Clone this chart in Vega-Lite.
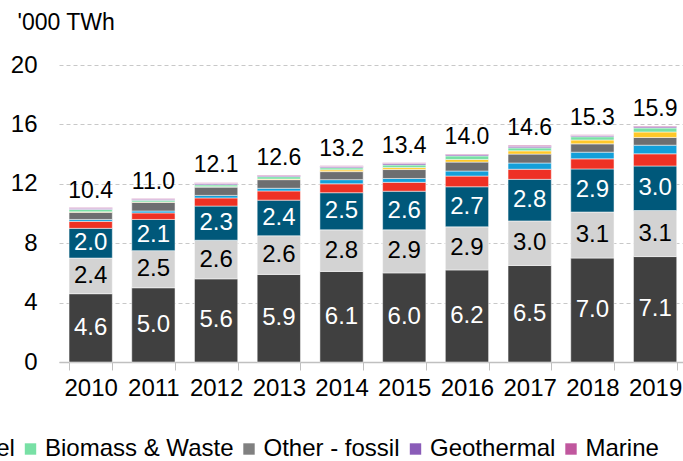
{
  "$schema": "https://vega.github.io/schema/vega-lite/v6.json",
  "width": 624,
  "height": 297,
  "autosize": {"type": "none"},
  "padding": {"left": 59, "top": 65, "right": 0, "bottom": 99},
  "background": "white",
  "config": {
    "font": "Liberation Sans",
    "view": {"stroke": null},
    "axis": {"labelFont": "Liberation Sans", "titleFont": "Liberation Sans"}
  },
  "datasets": {
    "rank": [
      {"source": "Coal", "rank": 1},
      {"source": "Gas", "rank": 2},
      {"source": "Hydro", "rank": 3},
      {"source": "Nuclear", "rank": 4},
      {"source": "Wind", "rank": 5},
      {"source": "Oil & Diesel", "rank": 6},
      {"source": "Solar", "rank": 7},
      {"source": "Biomass & Waste", "rank": 8},
      {"source": "Geothermal", "rank": 9},
      {"source": "Marine", "rank": 10}
    ],
    "gen": [
      {"year": "2010", "source": "Coal", "value": 4.6},
      {"year": "2010", "source": "Gas", "value": 2.4},
      {"year": "2010", "source": "Hydro", "value": 2.0},
      {"year": "2010", "source": "Nuclear", "value": 0.47},
      {"year": "2010", "source": "Wind", "value": 0.13},
      {"year": "2010", "source": "Oil & Diesel", "value": 0.49},
      {"year": "2010", "source": "Solar", "value": 0.02},
      {"year": "2010", "source": "Biomass & Waste", "value": 0.16},
      {"year": "2010", "source": "Geothermal", "value": 0.08},
      {"year": "2010", "source": "Marine", "value": 0.05},
      {"year": "2011", "source": "Coal", "value": 5.0},
      {"year": "2011", "source": "Gas", "value": 2.5},
      {"year": "2011", "source": "Hydro", "value": 2.1},
      {"year": "2011", "source": "Nuclear", "value": 0.44},
      {"year": "2011", "source": "Wind", "value": 0.13},
      {"year": "2011", "source": "Oil & Diesel", "value": 0.59},
      {"year": "2011", "source": "Solar", "value": 0.02},
      {"year": "2011", "source": "Biomass & Waste", "value": 0.11},
      {"year": "2011", "source": "Geothermal", "value": 0.07},
      {"year": "2011", "source": "Marine", "value": 0.05},
      {"year": "2012", "source": "Coal", "value": 5.6},
      {"year": "2012", "source": "Gas", "value": 2.6},
      {"year": "2012", "source": "Hydro", "value": 2.3},
      {"year": "2012", "source": "Nuclear", "value": 0.55},
      {"year": "2012", "source": "Wind", "value": 0.17},
      {"year": "2012", "source": "Oil & Diesel", "value": 0.56},
      {"year": "2012", "source": "Solar", "value": 0.02},
      {"year": "2012", "source": "Biomass & Waste", "value": 0.13},
      {"year": "2012", "source": "Geothermal", "value": 0.09},
      {"year": "2012", "source": "Marine", "value": 0.05},
      {"year": "2013", "source": "Coal", "value": 5.9},
      {"year": "2013", "source": "Gas", "value": 2.6},
      {"year": "2013", "source": "Hydro", "value": 2.4},
      {"year": "2013", "source": "Nuclear", "value": 0.62},
      {"year": "2013", "source": "Wind", "value": 0.18},
      {"year": "2013", "source": "Oil & Diesel", "value": 0.58},
      {"year": "2013", "source": "Solar", "value": 0.04},
      {"year": "2013", "source": "Biomass & Waste", "value": 0.16},
      {"year": "2013", "source": "Geothermal", "value": 0.07},
      {"year": "2013", "source": "Marine", "value": 0.05},
      {"year": "2014", "source": "Coal", "value": 6.1},
      {"year": "2014", "source": "Gas", "value": 2.8},
      {"year": "2014", "source": "Hydro", "value": 2.5},
      {"year": "2014", "source": "Nuclear", "value": 0.6},
      {"year": "2014", "source": "Wind", "value": 0.28},
      {"year": "2014", "source": "Oil & Diesel", "value": 0.54},
      {"year": "2014", "source": "Solar", "value": 0.12},
      {"year": "2014", "source": "Biomass & Waste", "value": 0.14},
      {"year": "2014", "source": "Geothermal", "value": 0.08},
      {"year": "2014", "source": "Marine", "value": 0.05},
      {"year": "2015", "source": "Coal", "value": 6.0},
      {"year": "2015", "source": "Gas", "value": 2.9},
      {"year": "2015", "source": "Hydro", "value": 2.6},
      {"year": "2015", "source": "Nuclear", "value": 0.6},
      {"year": "2015", "source": "Wind", "value": 0.26},
      {"year": "2015", "source": "Oil & Diesel", "value": 0.6},
      {"year": "2015", "source": "Solar", "value": 0.13},
      {"year": "2015", "source": "Biomass & Waste", "value": 0.18},
      {"year": "2015", "source": "Geothermal", "value": 0.09},
      {"year": "2015", "source": "Marine", "value": 0.06},
      {"year": "2016", "source": "Coal", "value": 6.2},
      {"year": "2016", "source": "Gas", "value": 2.9},
      {"year": "2016", "source": "Hydro", "value": 2.7},
      {"year": "2016", "source": "Nuclear", "value": 0.72},
      {"year": "2016", "source": "Wind", "value": 0.34},
      {"year": "2016", "source": "Oil & Diesel", "value": 0.6},
      {"year": "2016", "source": "Solar", "value": 0.18},
      {"year": "2016", "source": "Biomass & Waste", "value": 0.24},
      {"year": "2016", "source": "Geothermal", "value": 0.08},
      {"year": "2016", "source": "Marine", "value": 0.05},
      {"year": "2017", "source": "Coal", "value": 6.5},
      {"year": "2017", "source": "Gas", "value": 3.0},
      {"year": "2017", "source": "Hydro", "value": 2.8},
      {"year": "2017", "source": "Nuclear", "value": 0.68},
      {"year": "2017", "source": "Wind", "value": 0.42},
      {"year": "2017", "source": "Oil & Diesel", "value": 0.6},
      {"year": "2017", "source": "Solar", "value": 0.22},
      {"year": "2017", "source": "Biomass & Waste", "value": 0.2},
      {"year": "2017", "source": "Geothermal", "value": 0.11},
      {"year": "2017", "source": "Marine", "value": 0.07},
      {"year": "2018", "source": "Coal", "value": 7.0},
      {"year": "2018", "source": "Gas", "value": 3.1},
      {"year": "2018", "source": "Hydro", "value": 2.9},
      {"year": "2018", "source": "Nuclear", "value": 0.68},
      {"year": "2018", "source": "Wind", "value": 0.45},
      {"year": "2018", "source": "Oil & Diesel", "value": 0.56},
      {"year": "2018", "source": "Solar", "value": 0.26},
      {"year": "2018", "source": "Biomass & Waste", "value": 0.22},
      {"year": "2018", "source": "Geothermal", "value": 0.08},
      {"year": "2018", "source": "Marine", "value": 0.05},
      {"year": "2019", "source": "Coal", "value": 7.1},
      {"year": "2019", "source": "Gas", "value": 3.1},
      {"year": "2019", "source": "Hydro", "value": 3.0},
      {"year": "2019", "source": "Nuclear", "value": 0.82},
      {"year": "2019", "source": "Wind", "value": 0.58},
      {"year": "2019", "source": "Oil & Diesel", "value": 0.52},
      {"year": "2019", "source": "Solar", "value": 0.37},
      {"year": "2019", "source": "Biomass & Waste", "value": 0.27},
      {"year": "2019", "source": "Geothermal", "value": 0.08},
      {"year": "2019", "source": "Marine", "value": 0.06}
    ],
    "totals": [
      {"year": "2010", "total": 10.4},
      {"year": "2011", "total": 11.0},
      {"year": "2012", "total": 12.1},
      {"year": "2013", "total": 12.6},
      {"year": "2014", "total": 13.2},
      {"year": "2015", "total": 13.4},
      {"year": "2016", "total": 14.0},
      {"year": "2017", "total": 14.6},
      {"year": "2018", "total": 15.3},
      {"year": "2019", "total": 15.9}
    ]
  },
  "layer": [
    {
      "data": {"name": "gen"},
      "transform": [
        {"lookup": "source", "from": {"data": {"name": "rank"}, "key": "source", "fields": ["rank"]}}
      ],
      "mark": {"type": "bar", "stroke": "white", "strokeWidth": 0.5},
      "encoding": {
        "x": {
          "field": "year",
          "type": "ordinal",
          "title": null,
          "scale": {"paddingInner": 0.31, "paddingOuter": 0.13, "align": 0.616},
          "axis": {
            "labelAngle": 0,
            "labelFontSize": 24,
            "labelColor": "#000000",
            "labelPadding": 6,
            "tickBand": "extent",
            "tickSize": 8,
            "tickColor": "#c0c0c0",
            "domainColor": "#c0c0c0",
            "domainWidth": 1.5,
            "grid": false
          }
        },
        "y": {
          "field": "value",
          "type": "quantitative",
          "stack": "zero",
          "scale": {"domain": [0, 20], "nice": false},
          "axis": {
            "values": [0, 4, 8, 12, 16, 20],
            "title": "'000 TWh",
            "titleAngle": 0,
            "titleAlign": "left",
            "titleBaseline": "middle",
            "titleX": -42,
            "titleY": -43,
            "titleFontSize": 23,
            "titleFontWeight": "normal",
            "titleColor": "#000000",
            "labelFontSize": 24,
            "labelColor": "#000000",
            "labelPadding": 22,
            "ticks": false,
            "domain": false,
            "grid": true,
            "gridColor": "#c8c8c8",
            "gridDash": [4, 3],
            "gridWidth": 1
          }
        },
        "order": {"field": "rank", "type": "quantitative", "sort": "ascending"},
        "color": {
          "field": "source",
          "type": "nominal",
          "scale": {
            "domain": ["Coal", "Gas", "Hydro", "Nuclear", "Wind", "Oil & Diesel", "Solar", "Biomass & Waste", "Other - fossil", "Geothermal", "Marine"],
            "range": ["#404040", "#d3d3d3", "#00587a", "#ee3124", "#139fd9", "#6d6e70", "#ffc828", "#78e0a5", "#808080", "#8a5cb8", "#c0579e"]
          },
          "legend": {
            "orient": "none",
            "legendX": -196,
            "legendY": 372,
            "direction": "horizontal",
            "title": null,
            "values": ["Oil & Diesel", "Biomass & Waste", "Other - fossil", "Geothermal", "Marine"],
            "symbolType": "square",
            "symbolSize": 130,
            "symbolStrokeWidth": 0,
            "labelFontSize": 24,
            "labelFont": "Liberation Sans",
            "labelColor": "#000000",
            "labelLimit": 400,
            "labelOffset": 2.5,
            "columnPadding": 3.5,
            "padding": 0
          }
        }
      }
    },
    {
      "data": {"name": "gen"},
      "transform": [
        {"filter": {"field": "source", "oneOf": ["Coal", "Gas", "Hydro"]}},
        {"stack": "value", "groupby": ["year"], "sort": [{"field": "source", "order": "ascending"}], "as": ["v0", "v1"]},
        {"fold": ["v0", "v1"], "as": ["edge", "pos"]}
      ],
      "mark": {"type": "text", "fontSize": 24, "baseline": "middle", "align": "center"},
      "encoding": {
        "x": {"field": "year", "type": "ordinal"},
        "y": {"aggregate": "mean", "field": "pos", "type": "quantitative", "stack": null},
        "detail": {"field": "source", "type": "nominal"},
        "text": {"aggregate": "max", "field": "value", "type": "quantitative", "format": ".1f"},
        "color": {"condition": {"test": "datum.source === 'Gas'", "value": "#000000"}, "value": "#ffffff"}
      }
    },
    {
      "data": {"name": "totals"},
      "mark": {"type": "text", "fontSize": 23, "baseline": "alphabetic", "align": "center", "dy": -10, "color": "#000000"},
      "encoding": {
        "x": {"field": "year", "type": "ordinal"},
        "y": {"field": "total", "type": "quantitative", "stack": null},
        "text": {"field": "total", "type": "quantitative", "format": ".1f"}
      }
    }
  ]
}
